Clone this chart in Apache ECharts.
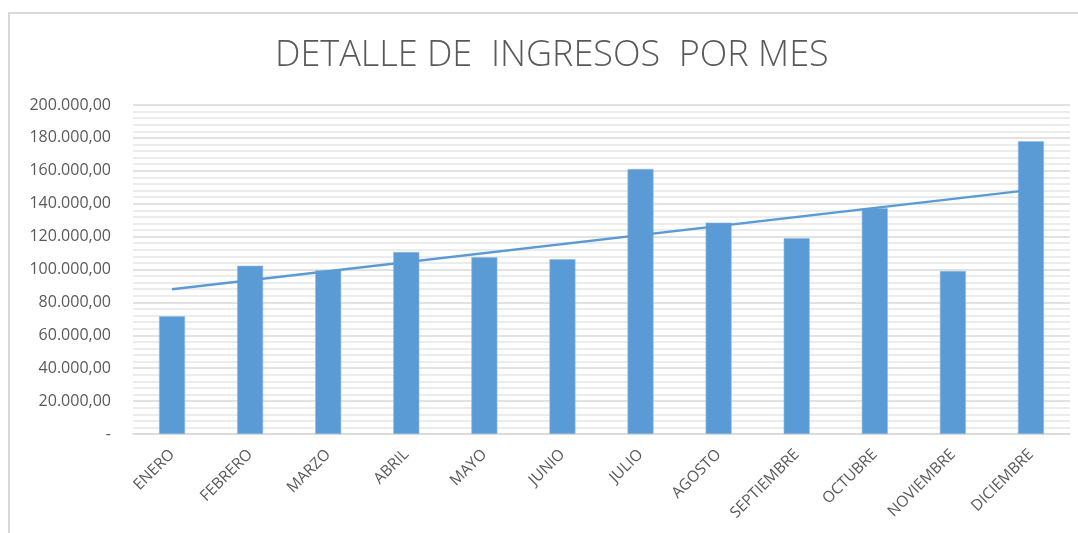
<!DOCTYPE html>
<html>
<head>
<meta charset="utf-8">
<script src="https://cdn.jsdelivr.net/npm/echarts@6/dist/echarts.min.js"></script>
<style>
	html, body { margin: 0; padding: 0; background: #ffffff; }
	#chart { width: 1078px; height: 533px; }
</style>
</head>
<body>
<div id="chart"></div>
<script>
const months = [
	"ENERO", "FEBRERO", "MARZO", "ABRIL", "MAYO", "JUNIO",
	"JULIO", "AGOSTO", "SEPTIEMBRE", "OCTUBRE", "NOVIEMBRE", "DICIEMBRE",
];
const ingresos = [
	71600, 102300, 99500, 110600, 107500, 106300,
	161100, 128500, 119000, 137200, 99100, 178000,
];
// trend line at its two ends (Jan, Dec)
const tendencia = [88000, null, null, null, null, null, null, null, null, null, null, 148400];
const yTicks = { min: 0, max: 200000, interval: 20000 };

const textColor = "#595959";
const barColor = "#5b9bd5";

function formatEs(value) {
	if (value === 0) {
		return "-";
	}
	const whole = Math.round(value).toString().replace(/\B(?=(\d{3})+(?!\d))/g, ".");
	return whole + ",00";
}

const chart = echarts.init(document.getElementById("chart"));
chart.setOption({
	animation: false,
	backgroundColor: "#ffffff",
	textStyle: { fontFamily: "Open Sans" },
	graphic: [
		{
			type: "rect",
			shape: { x: 9, y: 13, width: 1300, height: 800 },
			style: { fill: "none", stroke: "#d9d9d9", lineWidth: 2 },
			silent: true,
		},
	],
	title: {
		text: "DETALLE DE  INGRESOS  POR MES",
		left: 270,
		top: 33,
		textStyle: {
			color: textColor,
			fontFamily: "Open Sans",
			fontWeight: 300,
			fontSize: 36,
		},
	},
	grid: { left: 133, right: 8, top: 105, bottom: 99, containLabel: false },
	xAxis: {
		type: "category",
		data: months,
		axisLine: { show: true, lineStyle: { color: "#d9d9d9", width: 1.5 } },
		axisTick: { show: false },
		axisLabel: {
			interval: 0,
			rotate: 45,
			color: textColor,
			fontSize: 15.5,
			margin: 18,
		},
	},
	yAxis: {
		type: "value",
		min: yTicks.min,
		max: yTicks.max,
		interval: yTicks.interval,
		axisLine: { show: false },
		axisTick: { show: false },
		axisLabel: {
			color: textColor,
			fontSize: 16,
			margin: 22,
			formatter: formatEs,
		},
		splitLine: { lineStyle: { color: "#d9d9d9", width: 1.5 } },
		minorTick: { show: false, splitNumber: 5 },
		minorSplitLine: { show: true, lineStyle: { color: "#ececec", width: 2 } },
	},
	series: [
		{
			name: "Ingresos",
			type: "bar",
			data: ingresos,
			barWidth: 26,
			itemStyle: { color: barColor, borderColor: "#8fbbe3", borderWidth: 0.6 },
		},
		{
			name: "Tendencia",
			type: "line",
			data: tendencia,
			connectNulls: true,
			showSymbol: false,
			symbol: "none",
			lineStyle: { color: barColor, width: 2.5 },
			z: 3,
		},
	],
});
</script>
</body>
</html>
